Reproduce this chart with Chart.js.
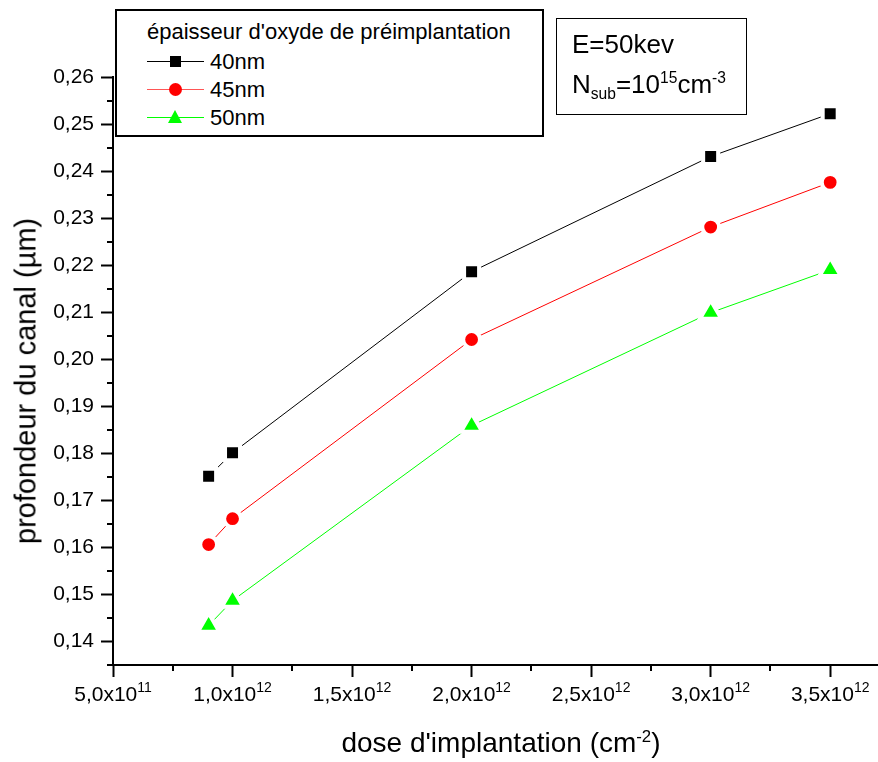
<!DOCTYPE html>
<html>
<head>
<meta charset="utf-8">
<title>profondeur du canal</title>
<script src="https://cdn.jsdelivr.net/npm/chart.js@4.4.1/dist/chart.umd.min.js"></script>
<style>
    body { margin: 0; background: #fff; font-family: "Liberation Sans", Arial, sans-serif; color: #000; }
    #wrap { position: relative; width: 878px; height: 762px; overflow: hidden; }
    #chart { position: absolute; left: 0; top: 0; }
    .frame { position: absolute; box-sizing: border-box; background: #fff; border: 2px solid #000; }
    .legend { left: 115px; top: 9px; width: 429px; height: 128px; }
    .legend .head { position: absolute; left: 30px; top: 8px; font-size: 22px; white-space: nowrap; }
    .legend .row { position: absolute; left: 30px; height: 28px; width: 200px; }
    .legend .ln { position: absolute; left: 0; top: 13px; width: 57px; height: 1px; }
    .legend .mk { position: absolute; }
    .legend .txt { position: absolute; left: 63px; top: 1px; font-size: 22px; }
    .sq { left: 23px; top: 8px; width: 11px; height: 11px; background: #000; }
    .ci { left: 22px; top: 7px; width: 13px; height: 13px; border-radius: 50%; background: #f00; }
    .tr { left: 21px; top: 6px; width: 0; height: 0; border-left: 7.5px solid transparent; border-right: 7.5px solid transparent; border-bottom: 13px solid #0f0; }
    .note { left: 556px; top: 18px; width: 191px; height: 97px; border-width: 1.5px; }
    .note div { position: absolute; left: 15px; font-size: 26px; white-space: nowrap; }
    .note sub, .note sup, .title sup { font-size: 60%; line-height: 0; }
    .title { position: absolute; white-space: nowrap; }
    #xtitle { left: 0; width: 1002px; top: 727px; text-align: center; font-size: 28px; }
    #ytitle { left: 26px; top: 381px; font-size: 29px; transform: translate(-50%, -50%) rotate(-90deg); }
</style>
</head>
<body>
<div id="wrap">
    <canvas id="chart" width="878" height="762"></canvas>

    <div class="frame legend">
        <div class="head">épaisseur d'oxyde de préimplantation</div>
        <div class="row" style="top: 37px"><div class="ln" style="background:#000"></div><div class="mk sq"></div><div class="txt">40nm</div></div>
        <div class="row" style="top: 65px"><div class="ln" style="background:#f55"></div><div class="mk ci"></div><div class="txt">45nm</div></div>
        <div class="row" style="top: 93px"><div class="ln" style="background:#0f0"></div><div class="mk tr"></div><div class="txt">50nm</div></div>
    </div>

    <div class="frame note">
        <div style="top: 10px">E=50kev</div>
        <div style="top: 50px">N<sub>sub</sub>=10<sup>15</sup>cm<sup>-3</sup></div>
    </div>

    <div class="title" id="xtitle">dose d'implantation (cm<sup>-2</sup>)</div>
    <div class="title" id="ytitle">profondeur du canal (µm)</div>
</div>

<script>
// implantation doses (cm^-2)
const doses = [0.9e12, 1.0e12, 2.0e12, 3.0e12, 3.5e12];

// channel depth (µm) for each pre-implantation oxide thickness
const depth40 = [0.1751, 0.1801, 0.2186, 0.2431, 0.2522];
const depth45 = [0.1606, 0.1661, 0.2042, 0.2281, 0.2376];
const depth50 = [0.1434, 0.1487, 0.1859, 0.2099, 0.2190];

const seriesNames = ['40nm', '45nm', '50nm'];

// labelled ticks and the short ones between them
const xTicks = [0.5e12, 1.0e12, 1.5e12, 2.0e12, 2.5e12, 3.0e12, 3.5e12];
const xMinorTicks = [0.75e12, 1.25e12, 1.75e12, 2.25e12, 2.75e12, 3.25e12];
const yTicks = [0.14, 0.15, 0.16, 0.17, 0.18, 0.19, 0.20, 0.21, 0.22, 0.23, 0.24, 0.25, 0.26];
const yMinorTicks = [0.135, 0.145, 0.155, 0.165, 0.175, 0.185, 0.195, 0.205, 0.215, 0.225, 0.235, 0.245, 0.255];

const xMin = 0.5e12, xMax = 3.7e12;
const yMin = 0.135, yMax = 0.26;

const FONT = '"Liberation Sans", Arial, sans-serif';

// 1.5e12 -> ["1,5x10", "12"]
function sciParts(v) {
    const exp = Math.floor(Math.log10(v) + 1e-9);
    const mant = (v / Math.pow(10, exp)).toFixed(1).replace('.', ',');
    return [mant + 'x10', String(exp)];
}

const toPoints = ys => ys.map((y, i) => ({ x: doses[i], y: y }));

// short ticks between the labelled ones, and x labels with a raised exponent
const axisExtras = {
    id: 'axisExtras',
    afterDraw(chart) {
        const ctx = chart.ctx;
        const xs = chart.scales.x, ys = chart.scales.y;
        ctx.save();
        ctx.strokeStyle = '#000';
        ctx.lineWidth = 2;
        ctx.beginPath();
        xMinorTicks.forEach(v => {
            const px = Math.round(xs.getPixelForValue(v));
            ctx.moveTo(px, xs.top);
            ctx.lineTo(px, xs.top + 6);
        });
        yMinorTicks.forEach(v => {
            const py = Math.round(ys.getPixelForValue(v));
            ctx.moveTo(ys.right, py);
            ctx.lineTo(ys.right - 6, py);
        });
        ctx.stroke();

        ctx.fillStyle = '#000';
        ctx.textBaseline = 'alphabetic';
        ctx.textAlign = 'left';
        const base = xs.top + 36;
        xTicks.forEach(v => {
            const [mant, exp] = sciParts(v);
            ctx.font = '21px ' + FONT;
            const wm = ctx.measureText(mant).width;
            ctx.font = '14px ' + FONT;
            const we = ctx.measureText(exp).width;
            const x0 = xs.getPixelForValue(v) - (wm + we) / 2;
            ctx.font = '21px ' + FONT;
            ctx.fillText(mant, x0, base);
            ctx.font = '14px ' + FONT;
            ctx.fillText(exp, x0 + wm, base - 9);
        });
        ctx.restore();
    }
};

const marker = { pointBorderColor: '#fff', pointBorderWidth: 4, pointHoverBorderWidth: 4 };
const axisLook = {
    border: { display: true, color: '#000', width: 2 },
    grid: { drawOnChartArea: false, drawTicks: true, tickLength: 12, tickWidth: 2, tickColor: '#000' }
};

new Chart(document.getElementById('chart').getContext('2d'), {
    type: 'scatter',
    data: {
        datasets: [
            Object.assign({
                label: seriesNames[0], data: toPoints(depth40), showLine: true,
                borderColor: '#000', borderWidth: 1, backgroundColor: '#000',
                pointStyle: 'rect', pointRadius: 10.6, pointBackgroundColor: '#000'
            }, marker),
            Object.assign({
                label: seriesNames[1], data: toPoints(depth45), showLine: true,
                borderColor: '#f00', borderWidth: 1, backgroundColor: '#f00',
                pointStyle: 'circle', pointRadius: 8.4, pointBackgroundColor: '#f00'
            }, marker),
            Object.assign({
                label: seriesNames[2], data: toPoints(depth50), showLine: true,
                borderColor: '#0f0', borderWidth: 1, backgroundColor: '#0f0',
                pointStyle: 'triangle', pointRadius: 12.4, pointBackgroundColor: '#0f0'
            }, marker)
        ]
    },
    options: {
        responsive: false,
        animation: false,
        events: [],
        layout: { autoPadding: false, padding: { top: 77, right: 0, left: 0, bottom: 0 } },
        plugins: { legend: { display: false }, tooltip: { enabled: false } },
        scales: {
            x: Object.assign({
                type: 'linear', min: xMin, max: xMax,
                afterBuildTicks: s => { s.ticks = xTicks.map(v => ({ value: v })); },
                afterFit: s => { s.height = 97; },
                ticks: { display: false }
            }, axisLook),
            y: Object.assign({
                type: 'linear', min: yMin, max: yMax,
                afterBuildTicks: s => { s.ticks = yTicks.map(v => ({ value: v })); },
                afterFit: s => { s.width = 113; },
                ticks: {
                    autoSkip: false,
                    color: '#000', padding: 7, font: { family: FONT, size: 21 },
                    callback: v => v.toFixed(2).replace('.', ',')
                }
            }, axisLook)
        }
    },
    plugins: [axisExtras]
});
</script>
</body>
</html>
